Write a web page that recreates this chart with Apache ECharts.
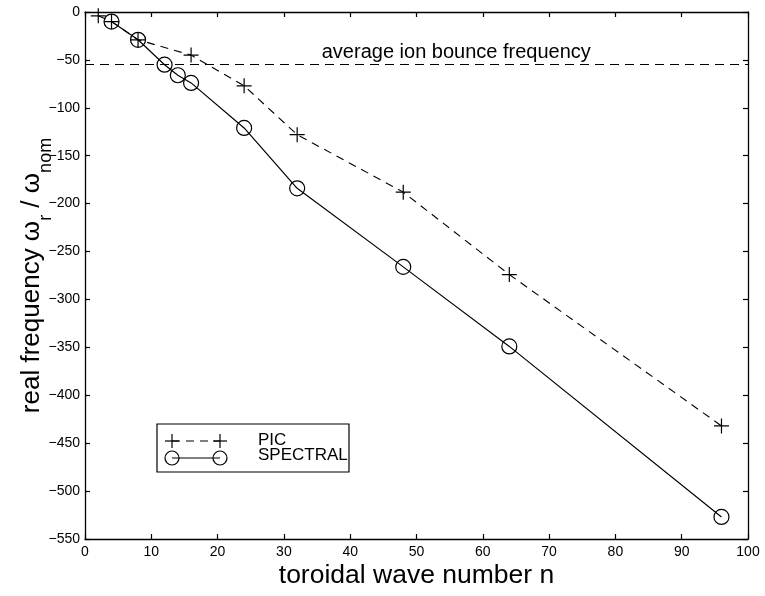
<!DOCTYPE html>
<html>
<head>
<meta charset="utf-8">
<script src="https://cdn.jsdelivr.net/npm/echarts@6/dist/echarts.min.js"></script>
<style>html,body{margin:0;padding:0;background:#fff}#c{width:765px;height:596px}</style>
</head>
<body>
<div id="c"></div>
<script>
// Data
const picN = [2, 4, 8, 16, 24, 32, 48, 64, 96];
const picVals = [-4, -10, -29, -45, -77, -128, -188, -274, -432];
const specN = [4, 8, 12, 14, 16, 24, 32, 48, 64, 96];
const specVals = [-10, -29, -55, -66, -74, -121, -184, -266, -349, -527];
const bounceFreq = -55;
const bounceLabel = 'average ion bounce frequency';
const bounceLabelPos = [56, -42];
const xTitle = 'toroidal wave number n';
const legendNames = ['PIC', 'SPECTRAL'];

const FONT = 'Liberation Sans, Arial, Helvetica, sans-serif';
const minusFmt = v => String(v).replace('-', '\u2212');

const chart = echarts.init(document.getElementById('c'), null, {renderer: 'canvas'});
const frameLine = {show: true, onZero: false, lineStyle: {color: '#000', width: 1.3}};
const tick = {show: true, inside: true, length: 5, lineStyle: {color: '#000', width: 1.2}};

function plusGraphic(cx, cy, h) {
  return [
    {type: 'line', shape: {x1: cx - h, y1: cy, x2: cx + h, y2: cy}, style: {stroke: '#000', lineWidth: 1.2}, z: 11},
    {type: 'line', shape: {x1: cx, y1: cy - h, x2: cx, y2: cy + h}, style: {stroke: '#000', lineWidth: 1.2}, z: 11}
  ];
}

const option = {
  animation: false,
  backgroundColor: '#fff',
  grid: {left: 85, right: 17, top: 12, bottom: 57, containLabel: false, outerBoundsMode: 'none'},
  xAxis: [
    {type: 'value', min: 0, max: 100, interval: 10, position: 'bottom',
     axisLine: frameLine, axisTick: tick, splitLine: {show: false},
     axisLabel: {color: '#000', fontFamily: FONT, fontSize: 14, margin: 6},
     name: xTitle, nameLocation: 'middle', nameGap: 23, nameMoveOverlap: false,
     nameTextStyle: {color: '#000', fontFamily: FONT, fontSize: 26.5}},
    {type: 'value', min: 0, max: 100, interval: 10, position: 'top',
     axisLine: frameLine, axisTick: tick, splitLine: {show: false},
     axisLabel: {show: false}}
  ],
  yAxis: [
    {type: 'value', min: -550, max: 0, interval: 50, position: 'left',
     axisLine: frameLine, axisTick: tick, splitLine: {show: false},
     axisLabel: {color: '#000', fontFamily: FONT, fontSize: 14, margin: 5, formatter: minusFmt},
     name: '{m|real frequency ω}{s|r}{m| / ω}{s|nom}', nameLocation: 'middle', nameGap: 30,
     nameMoveOverlap: false,
     nameTextStyle: {color: '#000', fontFamily: FONT, fontSize: 26,
       rich: {
         m: {fontFamily: FONT, fontSize: 26, color: '#000', lineHeight: 30, verticalAlign: 'top'},
         s: {fontFamily: FONT, fontSize: 18, color: '#000', lineHeight: 36, verticalAlign: 'bottom'}
       }}},
    {type: 'value', min: -550, max: 0, interval: 50, position: 'right',
     axisLine: frameLine, axisTick: tick, splitLine: {show: false},
     axisLabel: {show: false}}
  ],
  series: [
    {
      name: legendNames[0], type: 'line',
      data: picN.map((n, i) => [n, picVals[i]]),
      symbol: 'path://M0,-10L0,10M-10,0L10,0', symbolSize: 15,
      itemStyle: {color: 'rgba(0,0,0,0)', borderColor: '#000', borderWidth: 1.2},
      lineStyle: {color: '#000', width: 1.1, type: [8, 6]},
      z: 3,
      markLine: {
        silent: true, symbol: 'none',
        label: {show: false},
        lineStyle: {color: '#000', width: 1.1, type: [9, 6]},
        data: [{yAxis: bounceFreq}]
      }
    },
    {
      name: legendNames[1], type: 'line',
      data: specN.map((n, i) => [n, specVals[i]]),
      symbol: 'circle', symbolSize: 15,
      itemStyle: {color: 'rgba(0,0,0,0)', borderColor: '#000', borderWidth: 1.2},
      lineStyle: {color: '#000', width: 1.2, type: 'solid'},
      z: 4
    },
    {
      name: 'label', type: 'scatter', symbolSize: 0,
      data: [bounceLabelPos],
      itemStyle: {color: '#000', opacity: 1},
      label: {show: true, position: 'inside', formatter: bounceLabel,
              color: '#000', opacity: 1, textBorderWidth: 0, fontFamily: FONT, fontSize: 20},
      silent: true
    }
  ],
  graphic: [
    {type: 'rect', shape: {x: 157, y: 424, width: 192, height: 48},
     style: {fill: '#fff', stroke: '#000', lineWidth: 1.2}, z: 10},
    // PIC row
    {type: 'line', shape: {x1: 172, y1: 441, x2: 220, y2: 441},
     style: {stroke: '#000', lineWidth: 1.1, lineDash: [8, 6]}, z: 11},
    ...plusGraphic(172, 441, 7),
    ...plusGraphic(220, 441, 7),
    {type: 'text', left: 258, top: 432,
     style: {text: legendNames[0], fill: '#000', font: '17px ' + FONT}, z: 11},
    // SPECTRAL row
    {type: 'line', shape: {x1: 172, y1: 458, x2: 220, y2: 458},
     style: {stroke: '#000', lineWidth: 1.2}, z: 11},
    {type: 'circle', shape: {cx: 172, cy: 458, r: 7},
     style: {fill: 'none', stroke: '#000', lineWidth: 1.2}, z: 11},
    {type: 'circle', shape: {cx: 220, cy: 458, r: 7},
     style: {fill: 'none', stroke: '#000', lineWidth: 1.2}, z: 11},
    {type: 'text', left: 258, top: 447,
     style: {text: legendNames[1], fill: '#000', font: '17px ' + FONT}, z: 11}
  ]
};
chart.setOption(option);
</script>
</body>
</html>
